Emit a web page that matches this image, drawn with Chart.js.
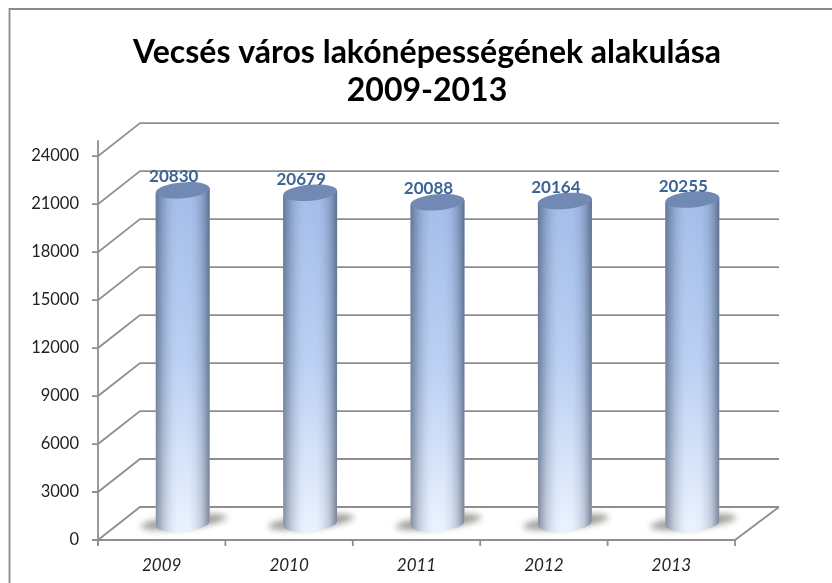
<!DOCTYPE html>
<html><head><meta charset="utf-8">
<style>html,body{margin:0;padding:0;background:#fff}#w{position:absolute;left:0;top:0;width:832px;height:583px}</style>
<script src="https://cdn.jsdelivr.net/npm/chart.js@4"></script></head>
<body><div id="w"><canvas id="c" width="832" height="583"></canvas></div>
<script>
const years = ['2009','2010','2011','2012','2013'];
const population = [20830,20679,20088,20164,20255];
const titleLines = ['Vecsés város lakónépességének alakulása','2009-2013'];
const yTicks = [0,3000,6000,9000,12000,15000,18000,21000,24000];

const DEPTH_X = 42, DEPTH_Y = -33, GRID = '#8e8e8e';

const scene = {
  id:'scene',
  beforeDraw(ch){
    const c = ch.ctx, s = ch.scales.y, a = ch.chartArea;
    c.save();
    c.fillStyle='#fff'; c.fillRect(0,0,ch.width,ch.height);
    c.strokeStyle='#8a8a8a'; c.lineWidth=1.8;
    c.beginPath(); c.moveTo(9.5,583); c.lineTo(9.5,9); c.lineTo(832,9); c.stroke();
    c.strokeStyle=GRID; c.lineWidth=1.8;
    yTicks.forEach(v=>{
      const y=s.getPixelForValue(v);
      c.beginPath(); c.moveTo(a.left-6,y); c.lineTo(a.left,y);
      c.lineTo(a.left+DEPTH_X,y+DEPTH_Y); c.lineTo(a.right+DEPTH_X+2,y+DEPTH_Y); c.stroke();
    });
    const y0=s.getPixelForValue(0);
    c.beginPath(); c.moveTo(a.left,y0+6); c.lineTo(a.left,a.top-16); c.stroke();
    c.beginPath(); c.moveTo(a.left,y0); c.lineTo(a.right,y0); c.lineTo(a.right+DEPTH_X+2,y0+DEPTH_Y); c.stroke();
    for(let i=0;i<=years.length;i++){
      const t=a.left+(a.right-a.left)*i/years.length;
      c.beginPath(); c.moveTo(t,y0); c.lineTo(t,y0+6); c.stroke();
    }
    c.restore();
  },
  afterDatasetsDraw(ch){
    const c = ch.ctx, s = ch.scales.y, base = s.getPixelForValue(0);
    ch.getDatasetMeta(0).data.forEach((b,i)=>{
      const w=b.width, cx=b.x+DEPTH_X/2, top=b.y+DEPTH_Y/2, bot=base+DEPTH_Y/2;
      const l=cx-w/2, r=cx+w/2, ry=8, tilt=-0.085;
      c.save();
      c.filter='blur(3px)'; c.fillStyle='rgba(125,120,112,.72)';
      c.beginPath(); c.ellipse(cx+1,bot-1.5,w*.8,6.5,-0.11,0,Math.PI*2); c.fill();
      c.restore();
      const tL=top+w/2*0.085, tR=top-w/2*0.085;
      const path=()=>{ c.beginPath(); c.moveTo(l,tL);
        c.ellipse(cx,bot,w/2,ry,tilt,Math.PI,0,true); c.lineTo(r,tR); c.closePath(); };
      c.save();
      const v=c.createLinearGradient(0,top,0,bot+ry);
      v.addColorStop(0,'#9db9e8'); v.addColorStop(.5,'#b6cdf3'); v.addColorStop(1,'#eaf1fe');
      c.fillStyle=v; path(); c.fill();
      const h=c.createLinearGradient(l,0,r,0);
      h.addColorStop(0,'rgba(60,70,90,.58)'); h.addColorStop(.14,'rgba(70,85,110,.28)');
      h.addColorStop(.42,'rgba(255,255,255,.08)'); h.addColorStop(.58,'rgba(255,255,255,.06)');
      h.addColorStop(.86,'rgba(70,85,110,.26)'); h.addColorStop(1,'rgba(55,65,85,.62)');
      c.fillStyle=h; path(); c.fill();
      c.fillStyle='#7189b3';
      c.beginPath(); c.ellipse(cx,top,w/2,ry,tilt,0,Math.PI*2); c.fill();
      c.restore();
      c.save();
      c.font='bold 17px Lato'; c.fillStyle='#3c6494'; c.textAlign='center'; c.textBaseline='alphabetic';
      c.fillText(String(population[i]),cx-9,top-8);
      c.restore();
    });
  }
};

new Chart(document.getElementById('c'),{
  type:'bar',
  data:{labels:years,datasets:[{data:population,backgroundColor:'rgba(0,0,0,0)',borderWidth:0,
    categoryPercentage:1,barPercentage:0.424}]},
  plugins:[scene],
  options:{
    responsive:false,animation:false,
    layout:{padding:{left:22,right:0,top:0,bottom:0}},
    plugins:{legend:{display:false},tooltip:{enabled:false},
      title:{display:true,text:titleLines,color:'#000',font:{family:'Lato',size:32,weight:'bold',lineHeight:1.19},
        padding:{top:34,bottom:46}}},
    scales:{
      x:{grid:{display:false},border:{display:false},afterFit(a){a.height=43},
        ticks:{color:'#222',font:{family:'Lato',size:17,style:'italic'},padding:7,maxRotation:0}},
      y:{min:0,max:24000,afterFit(a){a.width=76},
        afterBuildTicks(a){a.ticks=yTicks.map(v=>({value:v}))},
        grid:{display:false},border:{display:false},
        ticks:{color:'#222',font:{family:'Lato',size:16.5},padding:11,callback:v=>String(v)}},
      yR:{position:'right',min:0,max:24000,afterFit(a){a.width=97},
        grid:{display:false},border:{display:false},ticks:{display:false}}
    }
  }
});
</script></body></html>
